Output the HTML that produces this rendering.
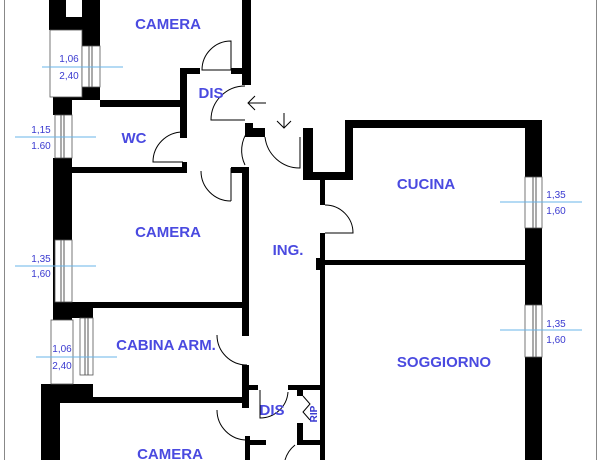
<!DOCTYPE html>
<html><head><meta charset="utf-8"><style>
html,body{margin:0;padding:0;background:#fff;width:600px;height:460px;overflow:hidden}
svg{display:block}
.t{font-family:"Liberation Sans",sans-serif;font-weight:bold;font-size:15px;fill:#4a4ae0;text-anchor:middle}
.d{font-family:"Liberation Sans",sans-serif;font-size:10px;fill:#3a3ad0;text-anchor:middle}
.a{fill:none;stroke:#000;stroke-width:1}
.dl{stroke:#6ab4e8;stroke-width:1}
.w{fill:#fff;stroke:#555;stroke-width:0.8}
</style></head><body>
<svg width="600" height="460" viewBox="0 0 600 460" xmlns="http://www.w3.org/2000/svg">
<line x1="4.5" y1="0" x2="4.5" y2="460" stroke="#888"/>
<line x1="596.5" y1="0" x2="596.5" y2="460" stroke="#888"/>
<g fill="#000">
<rect x="49" y="0" width="17" height="30"/>
<rect x="66" y="17" width="16" height="13"/>
<rect x="82" y="0" width="18" height="46"/>
<rect x="53" y="87" width="47" height="13"/>
<rect x="53" y="100" width="19" height="15"/>
<rect x="100" y="100" width="85" height="7"/>
<rect x="242" y="0" width="9" height="85"/>
<rect x="231" y="68" width="20" height="6"/>
<rect x="180" y="68" width="7" height="70"/>
<rect x="180" y="68" width="20" height="6"/>
<rect x="182" y="162" width="5" height="11"/>
<rect x="53" y="158" width="19" height="162"/>
<rect x="72" y="167" width="113" height="6"/>
<rect x="231" y="167" width="18" height="6"/>
<rect x="242" y="167" width="7" height="169"/>
<rect x="245" y="123" width="8" height="14"/>
<rect x="253" y="128" width="12" height="9"/>
<rect x="303" y="128" width="10" height="52"/>
<rect x="303" y="172" width="50" height="8"/>
<rect x="345" y="120" width="8" height="60"/>
<rect x="345" y="120" width="197" height="8"/>
<rect x="525" y="120" width="17" height="57"/>
<rect x="525" y="228" width="17" height="77"/>
<rect x="525" y="357" width="17" height="103"/>
<rect x="320" y="180" width="5" height="25"/>
<rect x="320" y="233" width="5" height="227"/>
<rect x="316" y="258" width="9" height="12"/>
<rect x="325" y="260" width="200" height="5"/>
<rect x="72" y="302" width="173" height="6"/>
<rect x="72" y="302" width="21" height="16"/>
<rect x="242" y="365" width="7" height="43"/>
<rect x="41" y="384" width="52" height="18"/>
<rect x="41" y="384" width="19" height="76"/>
<rect x="60" y="397" width="189" height="6"/>
<rect x="245" y="385" width="13" height="5"/>
<rect x="288" y="385" width="32" height="5"/>
<rect x="297" y="385" width="6" height="11"/>
<rect x="297" y="423" width="6" height="22"/>
<rect x="297" y="440" width="23" height="5"/>
<rect x="245" y="440" width="21" height="5"/>
<rect x="245" y="436" width="5" height="24"/>
</g>
<rect class="w" x="50" y="30" width="32" height="67"/>
<rect class="w" x="82" y="46" width="18" height="41"/>
<line x1="89" y1="46" x2="89" y2="87" stroke="#555"/><line x1="92" y1="46" x2="92" y2="87" stroke="#555"/>
<rect class="w" x="55" y="115" width="17" height="43"/>
<line x1="61" y1="115" x2="61" y2="158" stroke="#555"/><line x1="64" y1="115" x2="64" y2="158" stroke="#555"/>
<rect class="w" x="55" y="240" width="17" height="62"/>
<line x1="61" y1="240" x2="61" y2="302" stroke="#555"/><line x1="64" y1="240" x2="64" y2="302" stroke="#555"/>
<rect class="w" x="51" y="320" width="22" height="64"/>
<rect class="w" x="80" y="318" width="13" height="57"/>
<line x1="85" y1="318" x2="85" y2="375" stroke="#555"/><line x1="88" y1="318" x2="88" y2="375" stroke="#555"/>
<rect class="w" x="525" y="177" width="17" height="51"/>
<line x1="533" y1="177" x2="533" y2="228" stroke="#555"/><line x1="536" y1="177" x2="536" y2="228" stroke="#555"/>
<rect class="w" x="525" y="305" width="17" height="52"/>
<line x1="533" y1="305" x2="533" y2="357" stroke="#555"/><line x1="536" y1="305" x2="536" y2="357" stroke="#555"/>
<path class="a" d="M231 41 A29 29 0 0 0 202 70 L231 70 Z"/>
<path class="a" d="M245 86 A34 34 0 0 0 211 120 L245 120"/>
<path class="a" d="M183 132 A30 30 0 0 0 153 162 L183 162"/>
<path class="a" d="M231 201 A30 30 0 0 1 201 171"/>
<line x1="231" y1="168" x2="231" y2="201" stroke="#000"/>
<path class="a" d="M265 137 A35 35 0 0 0 300 168 L300 137"/>
<path class="a" d="M248 131 A33 33 0 0 0 245 165"/>
<path class="a" d="M325 205 A28 28 0 0 1 353 233 L325 233"/>
<path class="a" d="M217 335 A30 30 0 0 0 247 365"/>
<path class="a" d="M217 410 A30 30 0 0 0 247 440"/>
<path class="a" d="M260 390 L260 418 A28 28 0 0 0 288 392"/>
<path class="a" d="M303 396 L310 404 L303 412 L310 420"/>
<path class="a" d="M295 445 A30 30 0 0 0 285 460"/>
<path class="a" d="M266 103 L248 103 M255 96 L248 103 L255 110"/>
<path class="a" d="M284 113 L284 128 M277 121 L284 128 L291 121"/>
<line class="dl" x1="42" y1="67" x2="123" y2="67"/>
<text class="d" x="69" y="62">1,06</text><text class="d" x="69" y="79">2,40</text>
<line class="dl" x1="15" y1="137" x2="96" y2="137"/>
<text class="d" x="41" y="133">1,15</text><text class="d" x="41" y="149">1.60</text>
<line class="dl" x1="15" y1="266" x2="96" y2="266"/>
<text class="d" x="41" y="262">1,35</text><text class="d" x="41" y="277">1,60</text>
<line class="dl" x1="36" y1="357" x2="117" y2="357"/>
<text class="d" x="62" y="352">1,06</text><text class="d" x="62" y="369">2,40</text>
<line class="dl" x1="500" y1="202" x2="582" y2="202"/>
<text class="d" x="556" y="198">1,35</text><text class="d" x="556" y="214">1,60</text>
<line class="dl" x1="500" y1="330" x2="582" y2="330"/>
<text class="d" x="556" y="327">1,35</text><text class="d" x="556" y="343">1,60</text>
<text class="t" x="168" y="29">CAMERA</text>
<text class="t" x="211" y="98">DIS</text>
<text class="t" x="134" y="143">WC</text>
<text class="t" x="168" y="237">CAMERA</text>
<text class="t" x="288" y="255">ING.</text>
<text class="t" x="166" y="350">CABINA ARM.</text>
<text class="t" x="272" y="415">DIS</text>
<text class="t" x="170" y="459">CAMERA</text>
<text class="t" x="426" y="189">CUCINA</text>
<text class="t" x="444" y="367">SOGGIORNO</text>
<text class="d" x="0" y="0" transform="translate(317,414) rotate(-90)" style="font-weight:bold">RIP</text>
</svg>
</body></html>
